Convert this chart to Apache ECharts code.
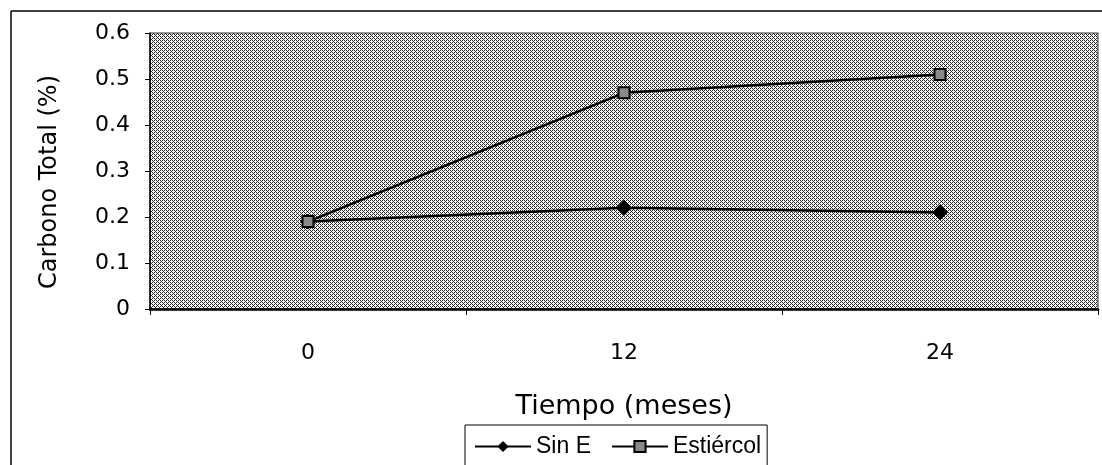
<!DOCTYPE html>
<html>
<head>
<meta charset="utf-8">
<script src="https://cdn.jsdelivr.net/npm/echarts@6/dist/echarts.min.js"></script>
<style>
  html, body { margin: 0; padding: 0; background: #fff; }
  #chart { width: 1102px; height: 465px; }
</style>
</head>
<body>
<div id="chart"></div>
<script>
// Months since the start of the trial
const months = ['0', '12', '24'];
// Total carbon (%) per treatment
const sinE = [0.19, 0.22, 0.21];
const estiercol = [0.19, 0.47, 0.51];
const seriesNames = ['Sin E', 'Estiércol'];

// Fine black/white dither used as the plot-area fill
function ditherPattern(dark, light) {
  const c = document.createElement('canvas');
  c.width = 4; c.height = 4;
  const g = c.getContext('2d');
  const cells = [
    1,0,1,0,
    0,1,0,0,
    1,0,1,0,
    0,0,0,1
  ];
  for (let i = 0; i < 16; i++) {
    g.fillStyle = cells[i] ? dark : light;
    g.fillRect(i % 4, Math.floor(i / 4), 1, 1);
  }
  return { image: c, repeat: 'repeat' };
}

const font = '"DejaVu Sans", sans-serif';
const chart = echarts.init(document.getElementById('chart'));

chart.setOption({
  animation: false,
  backgroundColor: '#fff',
  graphic: [
    { type: 'line', shape: { x1: 11, y1: 11, x2: 1102, y2: 11 }, style: { stroke: '#000', lineWidth: 1.5 } },
    { type: 'line', shape: { x1: 11, y1: 11, x2: 11, y2: 465 }, style: { stroke: '#000', lineWidth: 1.5 } }
  ],
  grid: {
    left: 150, right: 4, top: 33, bottom: 156,
    show: true,
    backgroundColor: ditherPattern('#2a2a2a', '#f8f8f8'),
    borderColor: '#333',
    borderWidth: 1
  },
  legend: {
    data: seriesNames,
    left: 465, top: 425,
    padding: [10, 6, 20, 9],
    borderColor: '#000',
    borderWidth: 1,
    itemWidth: 56,
    itemHeight: 14,
    itemGap: 20,
    textStyle: { fontFamily: '"Liberation Sans Narrow", "Liberation Sans", sans-serif', fontSize: 23, color: '#000' }
  },
  xAxis: {
    type: 'category',
    data: months,
    boundaryGap: true,
    name: 'Tiempo (meses)',
    nameLocation: 'middle',
    nameGap: 84,
    nameTextStyle: { fontFamily: font, fontSize: 27, color: '#000' },
    axisLine: { lineStyle: { color: '#000', width: 2.5 } },
    axisTick: { show: true, length: 6, lineStyle: { color: '#000' } },
    axisLabel: { margin: 33, fontFamily: font, fontSize: 22, color: '#000' },
    splitLine: { show: false }
  },
  yAxis: {
    type: 'value',
    min: 0, max: 0.6, interval: 0.1,
    name: 'Carbono Total (%)',
    nameLocation: 'middle',
    nameGap: 88,
    nameRotate: 90,
    nameTextStyle: { fontFamily: font, fontSize: 24, color: '#000', padding: [0, 0, 0, -22] },
    axisLine: { show: true, lineStyle: { color: '#000', width: 1.5 } },
    axisTick: { show: true, length: 5, lineStyle: { color: '#000' } },
    axisLabel: { margin: 20, fontFamily: font, fontSize: 22, color: '#000' },
    splitLine: { show: false }
  },
  series: [
    {
      name: seriesNames[0],
      type: 'line',
      data: sinE,
      symbol: 'diamond',
      symbolSize: 15,
      lineStyle: { color: '#000', width: 2.5 },
      itemStyle: { color: '#000', borderColor: '#000' }
    },
    {
      name: seriesNames[1],
      type: 'line',
      data: estiercol,
      symbol: 'rect',
      symbolSize: 11,
      lineStyle: { color: '#000', width: 2.5 },
      itemStyle: { color: '#8a8a8a', borderColor: '#000', borderWidth: 2 }
    }
  ]
});
</script>
</body>
</html>
